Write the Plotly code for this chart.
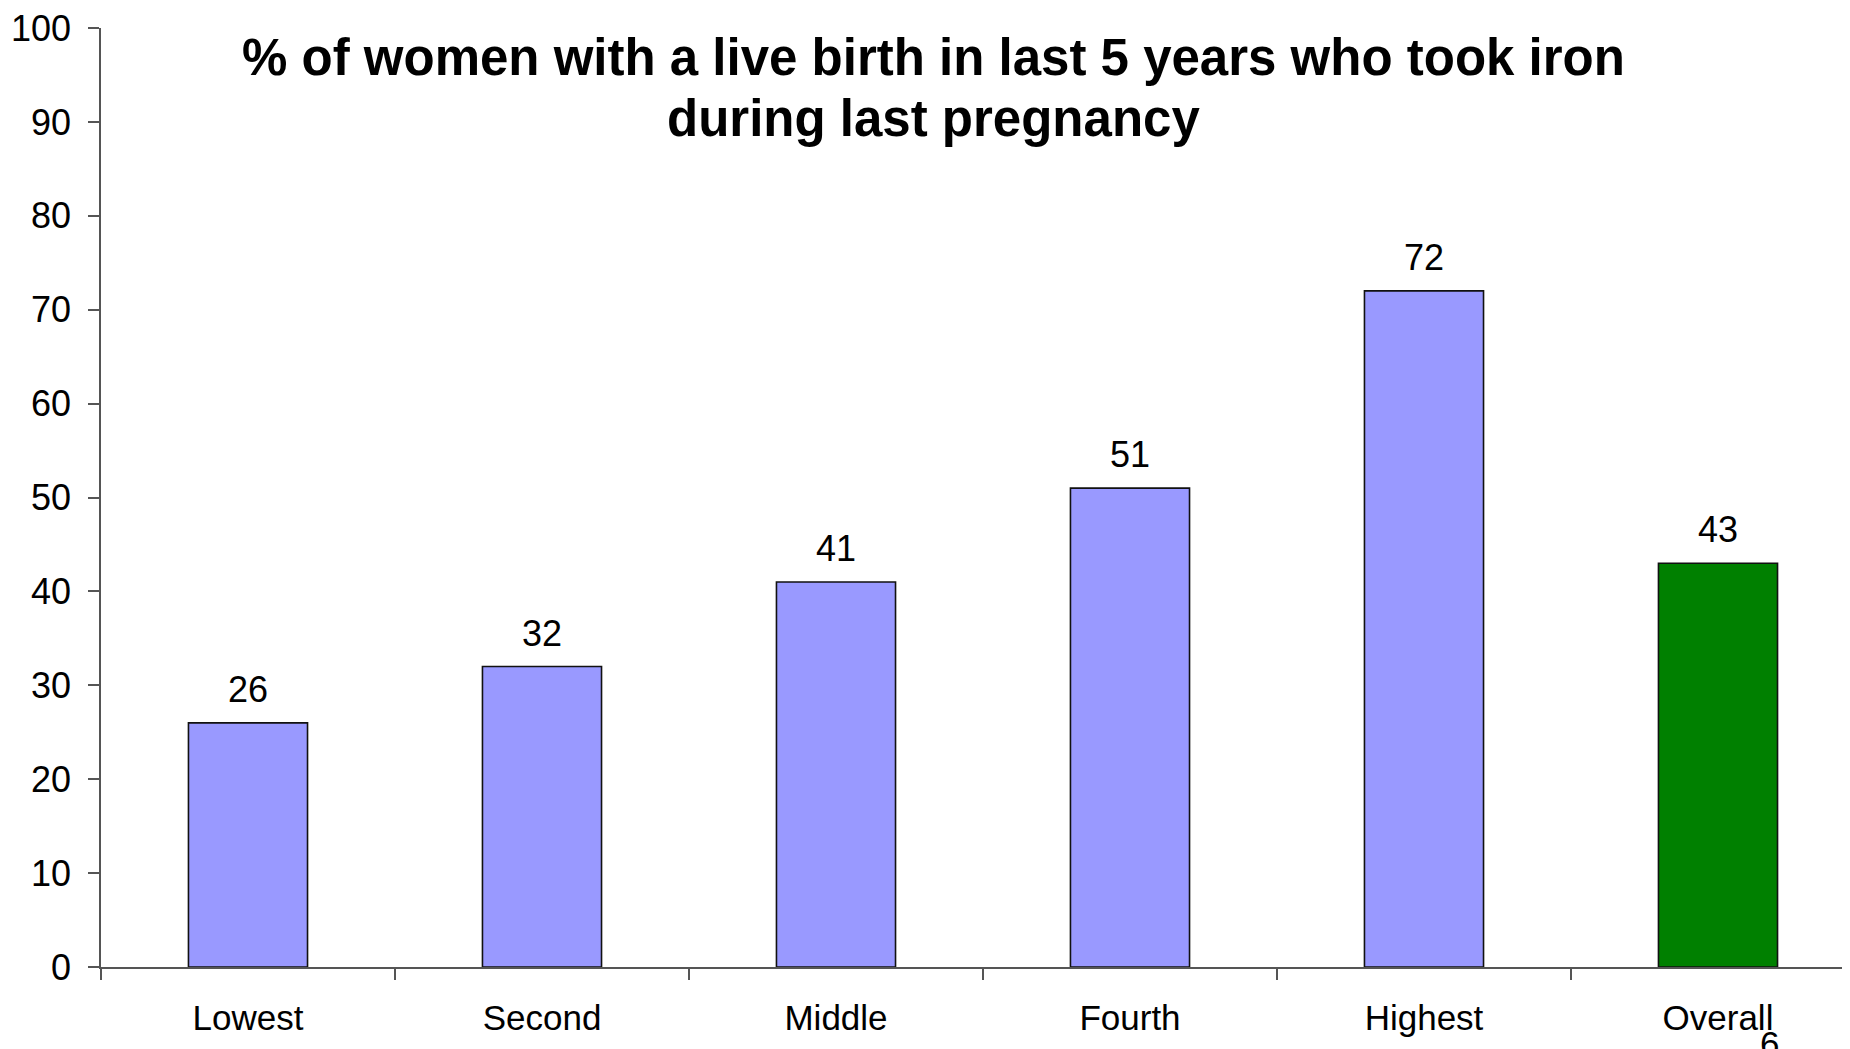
import plotly.graph_objects as go

categories = ["Lowest", "Second", "Middle", "Fourth", "Highest", "Overall"]
values = [26, 32, 41, 51, 72, 43]
bar_colors = ["#9999FF", "#9999FF", "#9999FF", "#9999FF", "#9999FF", "#008000"]
y_ticks = [0, 10, 20, 30, 40, 50, 60, 70, 80, 90, 100]
title_lines = ["% of women with a live birth in last 5 years who took iron",
               "during last pregnancy"]
page_number = "6"

FONT = "Liberation Sans, Arial, sans-serif"

# page body has an 8px default margin: figure sized/offset to fill the 1850x1049 window
PLOT_TOP, PLOT_BOTTOM, PLOT_LEFT, PLOT_W = 26, 967, 101, 1749


def py(ywin):
    return (PLOT_BOTTOM - ywin) / (PLOT_BOTTOM - PLOT_TOP)


def px(xwin):
    return (xwin - PLOT_LEFT) / PLOT_W


fig = go.Figure()
fig.add_trace(go.Bar(
    x=categories, y=values,
    marker=dict(color=bar_colors, line=dict(color="#111111", width=1.6)),
    width=0.405,
    hoverinfo="skip",
))

annotations = []
for c, v in zip(categories, values):
    annotations.append(dict(
        x=c, y=v, xref="x", yref="y", text=str(v), showarrow=False,
        yanchor="bottom", xanchor="center", yshift=11,
        font=dict(family=FONT, size=36, color="black"),
    ))

for line, yw in zip(title_lines, [56, 117]):
    annotations.append(dict(
        x=px(933), y=py(yw), xref="paper", yref="paper",
        text=line, showarrow=False,
        xanchor="center", yanchor="middle",
        font=dict(family=FONT, size=51, color="black", weight="bold"),
    ))
annotations.append(dict(
    x=px(1769), y=py(1022), xref="paper", yref="paper",
    text=page_number, showarrow=False, xanchor="center", yanchor="top",
    font=dict(family=FONT, size=35, color="black"),
))

fig.update_layout(
    width=1842, height=1041,
    margin=dict(l=93, r=0, t=18, b=82, pad=0),
    paper_bgcolor="white", plot_bgcolor="white",
    showlegend=False,
    annotations=annotations,
    font=dict(family=FONT, size=35, color="black"),
)
fig.update_xaxes(
    type="category", range=[-0.5, 5.449],
    showline=True, linecolor="#555555", linewidth=1.5,
    ticks="outside", tickson="boundaries", ticklen=11, tickcolor="#555555", tickwidth=1.5,
    showgrid=False, zeroline=False,
    tickfont=dict(family=FONT, size=35, color="black"),
    ticklabelstandoff=19, ticklabeloverflow="allow",
)
fig.update_yaxes(
    range=[0, 100], tickvals=y_ticks,
    showline=True, linecolor="#555555", linewidth=1.5,
    ticks="outside", ticklen=11, tickcolor="#555555", tickwidth=1.5,
    showgrid=False, zeroline=False,
    tickfont=dict(family=FONT, size=36, color="black"),
    ticklabelstandoff=10, ticklabeloverflow="allow",
)

fig.write_html("out.html")
